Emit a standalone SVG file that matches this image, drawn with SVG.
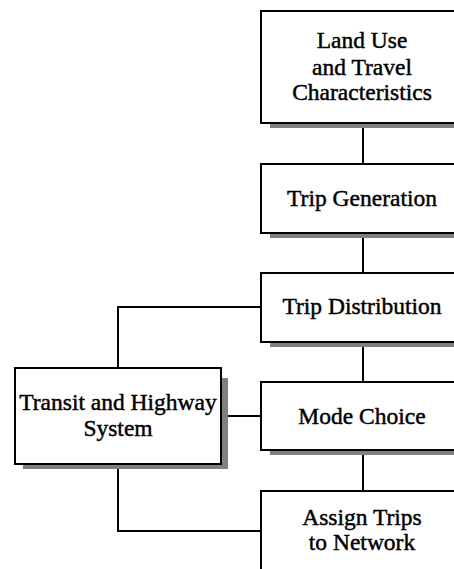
<svg xmlns="http://www.w3.org/2000/svg" width="454" height="569" viewBox="0 0 454 569">
<style>
.box{fill:#fff;stroke:#000;stroke-width:2}
.sh{fill:#808080}
.t{font-family:"Liberation Serif","Times New Roman",serif;font-size:23.5px;fill:#000;stroke:#000;stroke-width:0.45;text-anchor:middle}
.c{fill:none;stroke:#000;stroke-width:2}
</style>
<rect width="454" height="569" fill="#fff"/>
<g id="connectors">
<path class="c" d="M363 123V164M363 233V273M363 342V382M363 450V491"/>
<path class="c" d="M261 307H118V368"/>
<path class="c" d="M221 416H261"/>
<path class="c" d="M118 464V531H261"/>
</g>
<g id="land-use">
<path class="sh" d="M270 123H470V128H270Z"/>
<rect class="box" x="261" y="11" width="202" height="112"/>
<text class="t" x="362" y="48">Land Use</text>
<text class="t" x="362" y="75">and Travel</text>
<text class="t" x="362" y="100">Characteristics</text>
</g>
<g id="trip-generation">
<path class="sh" d="M270 233H470V238H270Z"/>
<rect class="box" x="261" y="164" width="202" height="69"/>
<text class="t" x="362" y="206">Trip Generation</text>
</g>
<g id="trip-distribution">
<path class="sh" d="M270 342H470V347H270Z"/>
<rect class="box" x="261" y="273" width="202" height="69"/>
<text class="t" x="362" y="314">Trip Distribution</text>
</g>
<g id="mode-choice">
<path class="sh" d="M270 450H470V455H270Z"/>
<rect class="box" x="261" y="382" width="202" height="68"/>
<text class="t" x="362" y="424">Mode Choice</text>
</g>
<g id="assign-trips">
<rect class="box" x="261" y="491" width="202" height="90"/>
<text class="t" x="362" y="525">Assign Trips</text>
<text class="t" x="362" y="550">to Network</text>
</g>
<g id="transit-highway">
<path class="sh" d="M221 378H228V469H23V464H221Z"/>
<rect class="box" x="15" y="368" width="206" height="96"/>
<text class="t" x="118" y="410">Transit and Highway</text>
<text class="t" x="118" y="436">System</text>
</g>
</svg>
